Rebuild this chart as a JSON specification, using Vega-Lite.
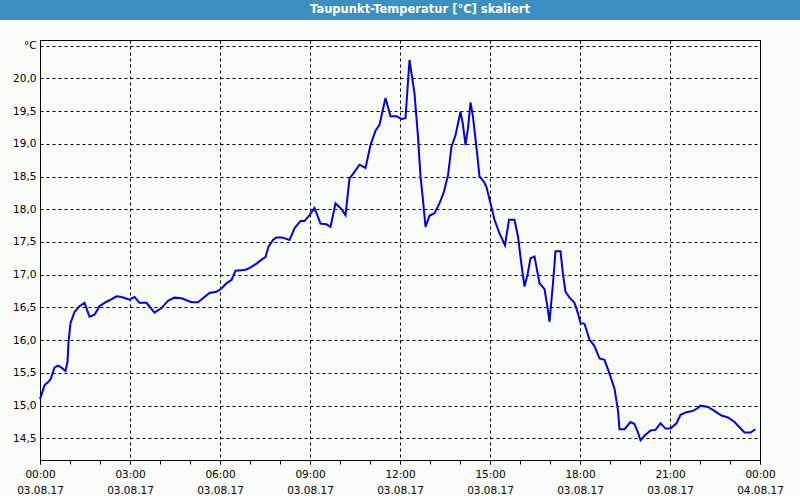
{
  "$schema": "https://vega.github.io/schema/vega-lite/v6.json",
  "background": "#fafcfa",
  "padding": 0,
  "spacing": 20,
  "center": true,
  "bounds": "flush",
  "config": {
    "font": "DejaVu Sans",
    "axis": {"labelFont": "DejaVu Sans", "labelFontSize": 10.5, "labelColor": "#000000"}
  },
  "vconcat": [
    {
      "width": 800,
      "height": 20,
      "view": {"fill": "#3c8fc1", "stroke": null},
      "data": {"values": [{"title": "Taupunkt-Temperatur [°C] skaliert"}]},
      "mark": {"type": "text", "color": "#ffffff", "font": "DejaVu Sans", "fontWeight": "bold", "fontSize": 11.5, "dx": 20},
      "encoding": {"text": {"field": "title", "type": "nominal"}}
    },
    {
      "width": 720,
      "height": 420,
      "view": {"stroke": "#000000", "strokeWidth": 1},
      "data": {"values": [
        {"t": "2017-08-03T00:00", "v": 15.10},
        {"t": "2017-08-03T00:09", "v": 15.31},
        {"t": "2017-08-03T00:16", "v": 15.36},
        {"t": "2017-08-03T00:21", "v": 15.40},
        {"t": "2017-08-03T00:29", "v": 15.58},
        {"t": "2017-08-03T00:36", "v": 15.61},
        {"t": "2017-08-03T00:43", "v": 15.58},
        {"t": "2017-08-03T00:51", "v": 15.53},
        {"t": "2017-08-03T00:55", "v": 15.67},
        {"t": "2017-08-03T00:57", "v": 15.97},
        {"t": "2017-08-03T01:01", "v": 16.26},
        {"t": "2017-08-03T01:09", "v": 16.43},
        {"t": "2017-08-03T01:19", "v": 16.52},
        {"t": "2017-08-03T01:29", "v": 16.57},
        {"t": "2017-08-03T01:39", "v": 16.36},
        {"t": "2017-08-03T01:49", "v": 16.39},
        {"t": "2017-08-03T01:59", "v": 16.52},
        {"t": "2017-08-03T02:09", "v": 16.57},
        {"t": "2017-08-03T02:19", "v": 16.61},
        {"t": "2017-08-03T02:33", "v": 16.67},
        {"t": "2017-08-03T02:43", "v": 16.66},
        {"t": "2017-08-03T02:59", "v": 16.62},
        {"t": "2017-08-03T03:09", "v": 16.66},
        {"t": "2017-08-03T03:19", "v": 16.57},
        {"t": "2017-08-03T03:33", "v": 16.57},
        {"t": "2017-08-03T03:49", "v": 16.42},
        {"t": "2017-08-03T04:03", "v": 16.49},
        {"t": "2017-08-03T04:16", "v": 16.60},
        {"t": "2017-08-03T04:29", "v": 16.65},
        {"t": "2017-08-03T04:43", "v": 16.64},
        {"t": "2017-08-03T04:53", "v": 16.61},
        {"t": "2017-08-03T05:03", "v": 16.58},
        {"t": "2017-08-03T05:16", "v": 16.58},
        {"t": "2017-08-03T05:29", "v": 16.66},
        {"t": "2017-08-03T05:39", "v": 16.72},
        {"t": "2017-08-03T05:53", "v": 16.74},
        {"t": "2017-08-03T06:03", "v": 16.79},
        {"t": "2017-08-03T06:13", "v": 16.87},
        {"t": "2017-08-03T06:23", "v": 16.92},
        {"t": "2017-08-03T06:31", "v": 17.06},
        {"t": "2017-08-03T06:43", "v": 17.07},
        {"t": "2017-08-03T06:53", "v": 17.08},
        {"t": "2017-08-03T07:03", "v": 17.12},
        {"t": "2017-08-03T07:13", "v": 17.17},
        {"t": "2017-08-03T07:23", "v": 17.23},
        {"t": "2017-08-03T07:31", "v": 17.27},
        {"t": "2017-08-03T07:37", "v": 17.43},
        {"t": "2017-08-03T07:46", "v": 17.53},
        {"t": "2017-08-03T07:53", "v": 17.57},
        {"t": "2017-08-03T08:04", "v": 17.57},
        {"t": "2017-08-03T08:19", "v": 17.53},
        {"t": "2017-08-03T08:29", "v": 17.71},
        {"t": "2017-08-03T08:41", "v": 17.82},
        {"t": "2017-08-03T08:49", "v": 17.82},
        {"t": "2017-08-03T08:59", "v": 17.91},
        {"t": "2017-08-03T09:09", "v": 18.02},
        {"t": "2017-08-03T09:21", "v": 17.78},
        {"t": "2017-08-03T09:33", "v": 17.77},
        {"t": "2017-08-03T09:41", "v": 17.73},
        {"t": "2017-08-03T09:51", "v": 18.09},
        {"t": "2017-08-03T10:03", "v": 18.00},
        {"t": "2017-08-03T10:11", "v": 17.91},
        {"t": "2017-08-03T10:19", "v": 18.47},
        {"t": "2017-08-03T10:28", "v": 18.56},
        {"t": "2017-08-03T10:39", "v": 18.68},
        {"t": "2017-08-03T10:51", "v": 18.63},
        {"t": "2017-08-03T11:01", "v": 18.98},
        {"t": "2017-08-03T11:11", "v": 19.20},
        {"t": "2017-08-03T11:19", "v": 19.29},
        {"t": "2017-08-03T11:31", "v": 19.70},
        {"t": "2017-08-03T11:41", "v": 19.42},
        {"t": "2017-08-03T11:53", "v": 19.42},
        {"t": "2017-08-03T12:03", "v": 19.38},
        {"t": "2017-08-03T12:11", "v": 19.39},
        {"t": "2017-08-03T12:19", "v": 20.28},
        {"t": "2017-08-03T12:29", "v": 19.77},
        {"t": "2017-08-03T12:36", "v": 19.11},
        {"t": "2017-08-03T12:41", "v": 18.50},
        {"t": "2017-08-03T12:46", "v": 18.14},
        {"t": "2017-08-03T12:51", "v": 17.73},
        {"t": "2017-08-03T12:59", "v": 17.90},
        {"t": "2017-08-03T13:09", "v": 17.94},
        {"t": "2017-08-03T13:19", "v": 18.09},
        {"t": "2017-08-03T13:28", "v": 18.27},
        {"t": "2017-08-03T13:36", "v": 18.52},
        {"t": "2017-08-03T13:43", "v": 18.96},
        {"t": "2017-08-03T13:51", "v": 19.13},
        {"t": "2017-08-03T14:01", "v": 19.49},
        {"t": "2017-08-03T14:06", "v": 19.29},
        {"t": "2017-08-03T14:11", "v": 18.98},
        {"t": "2017-08-03T14:16", "v": 19.24},
        {"t": "2017-08-03T14:21", "v": 19.63},
        {"t": "2017-08-03T14:26", "v": 19.41},
        {"t": "2017-08-03T14:35", "v": 18.80},
        {"t": "2017-08-03T14:39", "v": 18.50},
        {"t": "2017-08-03T14:48", "v": 18.42},
        {"t": "2017-08-03T14:53", "v": 18.34},
        {"t": "2017-08-03T15:01", "v": 18.09},
        {"t": "2017-08-03T15:09", "v": 17.84},
        {"t": "2017-08-03T15:19", "v": 17.63},
        {"t": "2017-08-03T15:30", "v": 17.45},
        {"t": "2017-08-03T15:38", "v": 17.84},
        {"t": "2017-08-03T15:49", "v": 17.84},
        {"t": "2017-08-03T15:56", "v": 17.58},
        {"t": "2017-08-03T16:03", "v": 17.15},
        {"t": "2017-08-03T16:09", "v": 16.82},
        {"t": "2017-08-03T16:15", "v": 17.00},
        {"t": "2017-08-03T16:21", "v": 17.25},
        {"t": "2017-08-03T16:29", "v": 17.28},
        {"t": "2017-08-03T16:39", "v": 16.87},
        {"t": "2017-08-03T16:49", "v": 16.78},
        {"t": "2017-08-03T16:55", "v": 16.51},
        {"t": "2017-08-03T16:59", "v": 16.28},
        {"t": "2017-08-03T17:06", "v": 16.87},
        {"t": "2017-08-03T17:11", "v": 17.36},
        {"t": "2017-08-03T17:21", "v": 17.36},
        {"t": "2017-08-03T17:26", "v": 17.00},
        {"t": "2017-08-03T17:31", "v": 16.74},
        {"t": "2017-08-03T17:39", "v": 16.65},
        {"t": "2017-08-03T17:49", "v": 16.57},
        {"t": "2017-08-03T17:56", "v": 16.41},
        {"t": "2017-08-03T18:01", "v": 16.26},
        {"t": "2017-08-03T18:09", "v": 16.25},
        {"t": "2017-08-03T18:19", "v": 16.01},
        {"t": "2017-08-03T18:29", "v": 15.91},
        {"t": "2017-08-03T18:39", "v": 15.72},
        {"t": "2017-08-03T18:49", "v": 15.70},
        {"t": "2017-08-03T18:59", "v": 15.49},
        {"t": "2017-08-03T19:09", "v": 15.26},
        {"t": "2017-08-03T19:16", "v": 14.93},
        {"t": "2017-08-03T19:19", "v": 14.64},
        {"t": "2017-08-03T19:29", "v": 14.64},
        {"t": "2017-08-03T19:41", "v": 14.75},
        {"t": "2017-08-03T19:49", "v": 14.72},
        {"t": "2017-08-03T19:56", "v": 14.59},
        {"t": "2017-08-03T20:01", "v": 14.47},
        {"t": "2017-08-03T20:09", "v": 14.54},
        {"t": "2017-08-03T20:21", "v": 14.62},
        {"t": "2017-08-03T20:31", "v": 14.63},
        {"t": "2017-08-03T20:41", "v": 14.73},
        {"t": "2017-08-03T20:51", "v": 14.65},
        {"t": "2017-08-03T21:01", "v": 14.65},
        {"t": "2017-08-03T21:13", "v": 14.73},
        {"t": "2017-08-03T21:21", "v": 14.86},
        {"t": "2017-08-03T21:33", "v": 14.90},
        {"t": "2017-08-03T21:46", "v": 14.92},
        {"t": "2017-08-03T21:55", "v": 14.96},
        {"t": "2017-08-03T22:01", "v": 15.00},
        {"t": "2017-08-03T22:16", "v": 14.98},
        {"t": "2017-08-03T22:29", "v": 14.92},
        {"t": "2017-08-03T22:43", "v": 14.85},
        {"t": "2017-08-03T22:56", "v": 14.82},
        {"t": "2017-08-03T23:09", "v": 14.75},
        {"t": "2017-08-03T23:19", "v": 14.67},
        {"t": "2017-08-03T23:29", "v": 14.59},
        {"t": "2017-08-03T23:41", "v": 14.59},
        {"t": "2017-08-03T23:51", "v": 14.64}
      ]},
      "encoding": {
        "y": {
          "field": "v",
          "type": "quantitative",
          "scale": {"domain": [14.17, 20.585], "nice": false, "zero": false},
          "axis": {
            "title": null,
            "domain": false,
            "ticks": false,
            "values": [14.5, 15, 15.5, 16, 16.5, 17, 17.5, 18, 18.5, 19, 19.5, 20, 20.5],
            "grid": true,
            "gridColor": "#000000",
            "gridDash": [3, 3],
            "gridWidth": 1,
            "labelPadding": 4,
            "labelExpr": "datum.value > 20.4 ? '°C' : replace(format(datum.value, '.1f'), '.', ',')"
          }
        }
      },
      "resolve": {"axis": {"x": "independent"}},
      "layer": [
        {
          "mark": {"type": "line", "strokeOpacity": 0},
          "encoding": {
            "x": {
              "field": "t",
              "type": "temporal",
              "scale": {"domain": [{"year": 2017, "month": 8, "date": 3, "hours": 0}, {"year": 2017, "month": 8, "date": 4, "hours": 0}], "nice": false},
              "axis": {
                "title": null,
                "orient": "bottom",
                "domain": false,
                "labels": false,
                "grid": false,
                "ticks": true,
                "tickColor": "#000000",
                "tickSize": 4,
                "values": [
                  {"year": 2017, "month": 8, "date": 3, "hours": 0},
                  {"year": 2017, "month": 8, "date": 3, "hours": 1},
                  {"year": 2017, "month": 8, "date": 3, "hours": 2},
                  {"year": 2017, "month": 8, "date": 3, "hours": 3},
                  {"year": 2017, "month": 8, "date": 3, "hours": 4},
                  {"year": 2017, "month": 8, "date": 3, "hours": 5},
                  {"year": 2017, "month": 8, "date": 3, "hours": 6},
                  {"year": 2017, "month": 8, "date": 3, "hours": 7},
                  {"year": 2017, "month": 8, "date": 3, "hours": 8},
                  {"year": 2017, "month": 8, "date": 3, "hours": 9},
                  {"year": 2017, "month": 8, "date": 3, "hours": 10},
                  {"year": 2017, "month": 8, "date": 3, "hours": 11},
                  {"year": 2017, "month": 8, "date": 3, "hours": 12},
                  {"year": 2017, "month": 8, "date": 3, "hours": 13},
                  {"year": 2017, "month": 8, "date": 3, "hours": 14},
                  {"year": 2017, "month": 8, "date": 3, "hours": 15},
                  {"year": 2017, "month": 8, "date": 3, "hours": 16},
                  {"year": 2017, "month": 8, "date": 3, "hours": 17},
                  {"year": 2017, "month": 8, "date": 3, "hours": 18},
                  {"year": 2017, "month": 8, "date": 3, "hours": 19},
                  {"year": 2017, "month": 8, "date": 3, "hours": 20},
                  {"year": 2017, "month": 8, "date": 3, "hours": 21},
                  {"year": 2017, "month": 8, "date": 3, "hours": 22},
                  {"year": 2017, "month": 8, "date": 3, "hours": 23},
                  {"year": 2017, "month": 8, "date": 4, "hours": 0}
                ]
              }
            }
          }
        },
        {
          "mark": {"type": "line", "color": "#0000e6", "strokeWidth": 2},
          "encoding": {
            "x": {
              "field": "t",
              "type": "temporal",
              "axis": {
                "title": null,
                "orient": "bottom",
                "domain": false,
                "values": [
                  {"year": 2017, "month": 8, "date": 3, "hours": 0},
                  {"year": 2017, "month": 8, "date": 3, "hours": 3},
                  {"year": 2017, "month": 8, "date": 3, "hours": 6},
                  {"year": 2017, "month": 8, "date": 3, "hours": 9},
                  {"year": 2017, "month": 8, "date": 3, "hours": 12},
                  {"year": 2017, "month": 8, "date": 3, "hours": 15},
                  {"year": 2017, "month": 8, "date": 3, "hours": 18},
                  {"year": 2017, "month": 8, "date": 3, "hours": 21},
                  {"year": 2017, "month": 8, "date": 4, "hours": 0}
                ],
                "ticks": true,
                "tickColor": "#000000",
                "tickSize": 4,
                "grid": true,
                "gridColor": "#000000",
                "gridDash": [3, 3],
                "gridWidth": 1,
                "labelOverlap": false,
                "labelFlush": false,
                "labelPadding": 5,
                "labelLineHeight": 16,
                "labelBaseline": "top",
                "labelExpr": "[timeFormat(datum.value, '%H:%M'), timeFormat(datum.value, '%d.%m.%y')]"
              }
            }
          }
        }
      ]
    }
  ]
}
